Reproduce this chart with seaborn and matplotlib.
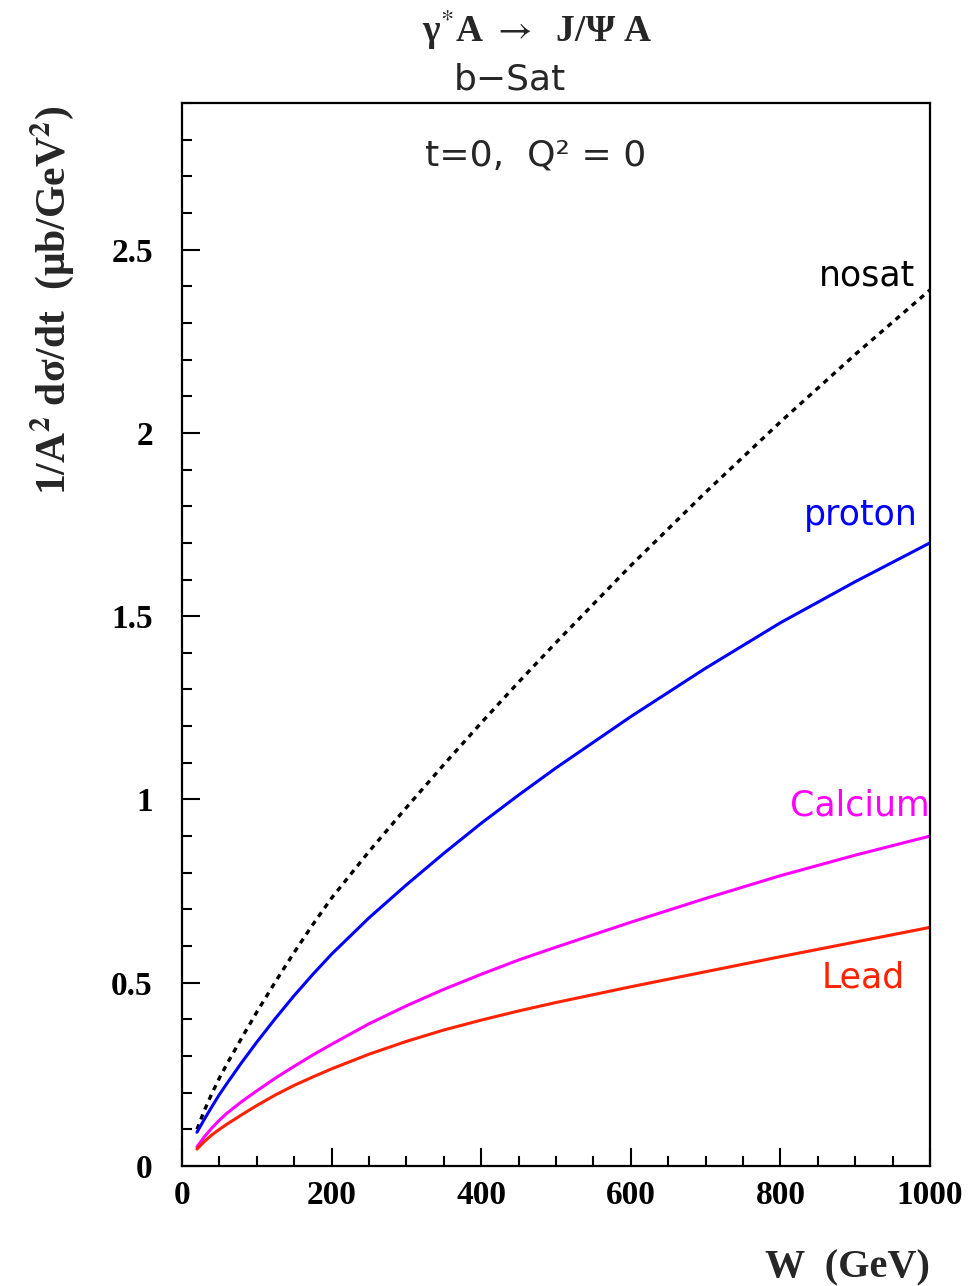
import numpy as np
import pandas as pd
import matplotlib
matplotlib.use("Agg")
import matplotlib.pyplot as plt
from matplotlib.ticker import MultipleLocator
import seaborn as sns

# ---------------- data ----------------
W = [20, 30, 40, 50, 60, 80, 100, 125, 150, 175, 200, 250, 300, 350, 400, 450, 500,
     600, 700, 800, 900, 1000]
nosat = [0.10, 0.152, 0.198, 0.24, 0.278, 0.35, 0.42, 0.503, 0.583, 0.659, 0.731, 0.858,
         0.978, 1.095, 1.209, 1.32, 1.428, 1.638, 1.838, 2.03, 2.214, 2.39]
proton = [0.092, 0.128, 0.162, 0.195, 0.225, 0.283, 0.338, 0.403, 0.465, 0.523, 0.578, 0.677,
          0.767, 0.853, 0.935, 1.012, 1.086, 1.226, 1.358, 1.482, 1.594, 1.70]
calcium = [0.052, 0.08, 0.104, 0.125, 0.144, 0.176, 0.205, 0.24, 0.272, 0.303, 0.332, 0.388,
           0.437, 0.482, 0.523, 0.562, 0.597, 0.665, 0.73, 0.792, 0.848, 0.90]
lead = [0.046, 0.067, 0.085, 0.1, 0.114, 0.14, 0.165, 0.194, 0.22, 0.243, 0.265, 0.305,
        0.34, 0.371, 0.398, 0.423, 0.446, 0.489, 0.53, 0.571, 0.611, 0.651]

x_ticks = [0, 200, 400, 600, 800, 1000]
x_ticklabels = ["0", "200", "400", "600", "800", "1000"]
y_ticks = [0, 0.5, 1, 1.5, 2, 2.5]
y_ticklabels = ["0", "0.5", "1", "1.5", "2", "2.5"]

series_names = ["nosat", "proton", "Calcium", "Lead"]
series_colors = ["#000000", "#0000ff", "#ff00ff", "#ff2200"]

# ---------------- style ----------------
sns.set_theme(style="white")
plt.rcParams["font.family"] = ["Liberation Serif", "DejaVu Serif"]
plt.rcParams["mathtext.fontset"] = "stix"

fig = plt.figure(figsize=(9.68, 12.86), dpi=100)
ax = fig.add_axes([182 / 968, 1 - 1166 / 1286, (930 - 182) / 968, (1166 - 103) / 1286])

df = pd.DataFrame({"W": W, "nosat": nosat, "proton": proton,
                   "Calcium": calcium, "Lead": lead})

for name, col in zip(series_names, series_colors):
    if name == "nosat":
        sns.lineplot(data=df, x="W", y=name, color=col, linewidth=2.4,
                     linestyle=(0, (1.6, 1.6)), ax=ax)
    else:
        sns.lineplot(data=df, x="W", y=name, color=col, linewidth=2.2, ax=ax)

ax.set_xlim(0, 1000)
ax.set_ylim(0, 2.9)
ax.set_xlabel("")
ax.set_ylabel("")

ax.set_xticks(x_ticks)
ax.set_xticklabels(x_ticklabels)
ax.set_yticks(y_ticks)
ax.set_yticklabels(y_ticklabels)
ax.xaxis.set_minor_locator(MultipleLocator(50))
ax.yaxis.set_minor_locator(MultipleLocator(0.1))

ax.tick_params(axis="both", which="both", direction="in", top=False, right=False,
               bottom=True, left=True, colors="black")
ax.tick_params(axis="both", which="major", length=13, width=1.5)
ax.tick_params(axis="both", which="minor", length=7, width=1.5)
ax.tick_params(axis="x", which="major", pad=10, labelsize=24)
ax.tick_params(axis="y", which="major", pad=21, labelsize=24)
for lab in ax.get_xticklabels() + ax.get_yticklabels():
    lab.set_fontweight("bold")
    lab.set_family(["Liberation Serif", "DejaVu Serif"])

for sp in ax.spines.values():
    sp.set_visible(True)
    sp.set_color("black")
    sp.set_linewidth(1.6)

# axis titles
fig.text(930 / 968, 1 - 1268 / 1286, "W  (GeV)", ha="right", va="center",
         fontsize=29, fontweight="bold", family=["Liberation Serif", "DejaVu Serif"])
fig.text(52 / 968, 1 - 300 / 1286, "1/A$^{\\mathbf{2}}$ dσ/dt  (μb/GeV$^{\\mathbf{2}}$)",
         ha="center", va="center", rotation=90,
         fontsize=30, fontweight="bold", family=["Liberation Serif", "DejaVu Serif"])

# titles
fig.text(537 / 968, 1 - 30 / 1286, "γ$^{*}$A $\\rightarrow$  J/Ψ A", ha="center", va="center",
         fontsize=27, fontweight="bold", family=["Liberation Serif", "DejaVu Serif"])
fig.text(510 / 968, 1 - 80 / 1286, "b\u2212Sat", ha="center", va="center",
         fontsize=26, family=["DejaVu Sans"])
fig.text(425 / 968, 1 - 155 / 1286, "t=0,  Q² = 0", ha="left", va="center",
         fontsize=26, family=["DejaVu Sans"])

# curve labels
ax.text(980, 2.43, "nosat", color=series_colors[0], ha="right", va="center",
        fontsize=25, family=["DejaVu Sans"])
ax.text(983, 1.777, "proton", color=series_colors[1], ha="right", va="center",
        fontsize=25, family=["DejaVu Sans"])
ax.text(1000, 0.983, "Calcium", color=series_colors[2], ha="right", va="center",
        fontsize=25, family=["DejaVu Sans"])
ax.text(967, 0.513, "Lead", color=series_colors[3], ha="right", va="center",
        fontsize=25, family=["DejaVu Sans"])

fig.savefig("out.png", dpi=100, facecolor="white")
